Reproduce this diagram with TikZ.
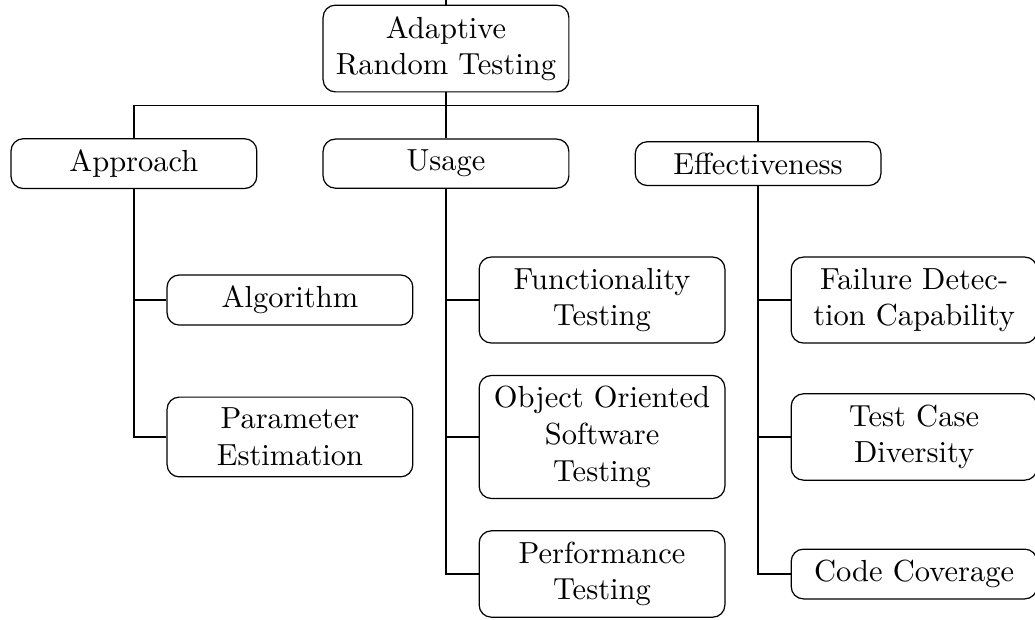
\documentclass[tikz,border=0pt]{standalone}
\usepackage{tikz}
\usetikzlibrary{positioning}

\begin{document}
\begin{tikzpicture}[
  box/.style={rectangle, draw, rounded corners, text width=2.6cm,
              align=center, inner xsep=3.3pt, inner ysep=3.6pt},
  link/.style={thin}
]
\useasboundingbox (-5.139,0.559) rectangle (6.787,-6.574);
\coordinate (row1) at (0,-2.898);
\coordinate (row2) at (0,-4.476);
\coordinate (row3) at (0,-6.055);

\node[box] (root) at (0,0) {Adaptive\\Random Testing};
\node[box, below=0.53cm of root] (usage) {Usage};
\node[box, left=0.75cm of usage] (approach) {Approach};
\node[box, right=0.75cm of usage] (effect) {Effectiveness};

\node[box, xshift=1.798cm] (algo) at (approach |- row1) {Algorithm};
\node[box, xshift=1.798cm] (param) at (approach |- row2) {Parameter\\Estimation};

\node[box, xshift=1.798cm] (func) at (usage |- row1) {Functionality\\Testing};
\node[box, xshift=1.798cm] (oo) at (usage |- row2) {Object Oriented\\Software\\Testing};
\node[box, xshift=1.798cm] (perf) at (usage |- row3) {Performance\\Testing};

\node[box, xshift=1.798cm] (fail) at (effect |- row1) {Failure Detec-\\tion Capability};
\node[box, xshift=1.798cm] (diverse) at (effect |- row2) {Test Case\\Diversity};
\node[box, xshift=1.798cm] (cover) at (effect |- row3) {Code Coverage};

\coordinate (stub) at (root |- 0,0.559);
\coordinate[below=0.15cm of root] (split);

\draw[link] (stub) -- (root);
\draw[link] (root) -- (split);
\draw[link] (split) -| (approach);
\draw[link] (split) -- (usage);
\draw[link] (split) -| (effect);
\draw[link] (approach) |- (algo);
\draw[link] (approach) |- (param);
\draw[link] (usage) |- (func);
\draw[link] (usage) |- (oo);
\draw[link] (usage) |- (perf);
\draw[link] (effect) |- (fail);
\draw[link] (effect) |- (diverse);
\draw[link] (effect) |- (cover);
\end{tikzpicture}
\end{document}
